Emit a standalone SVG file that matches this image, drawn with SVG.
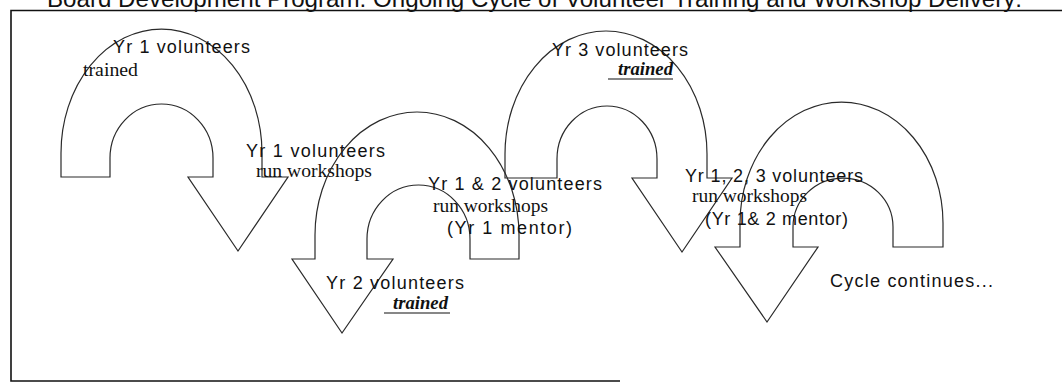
<svg xmlns="http://www.w3.org/2000/svg" width="1062" height="383" viewBox="0 0 1062 383">
<style>
.bg{fill:#fff}
.frame{fill:none;stroke:#111;stroke-width:1.6}
.arrow{fill:none;stroke:#2a2a2a;stroke-width:1.2;stroke-linejoin:miter}
.ul{stroke:#111;stroke-width:1.2}
.title{font-family:"Liberation Sans",Arial,sans-serif;font-size:24px;fill:#111}
.sans{font-family:"Liberation Sans",Arial,sans-serif;font-size:18px;fill:#111}
.serif{font-family:"Liberation Serif","Times New Roman",serif;font-size:18px;fill:#111}
.it{font-family:"Liberation Serif","Times New Roman",serif;font-size:18px;font-style:italic;font-weight:bold;fill:#111}
</style>
<rect class="bg" x="0" y="0" width="1062" height="383"/>
<g id="title">
<text class="title" x="47" y="7" textLength="975" lengthAdjust="spacingAndGlyphs">Board Development Program: Ongoing Cycle of Volunteer Training and Workshop Delivery:</text>
</g>
<g id="frame">
<path class="frame" d="M1062,10.5 H11 V381 H620"/>
</g>
<g id="arrow-yr1">
<path class="arrow" d="M61,177 V153 A100.5,124 0 0 1 262,153 V177 H288 L238,251 L188,177 H213 V158 A51.5,54 0 0 0 110,158 V177 Z"/>
<text class="sans" x="113" y="53" textLength="137" lengthAdjust="spacing">Yr 1 volunteers</text>
<text class="serif" x="83" y="76" textLength="55" lengthAdjust="spacingAndGlyphs">trained</text>
<text class="sans" x="246" y="157" textLength="139" lengthAdjust="spacing">Yr 1 volunteers</text>
<text class="serif" x="256" y="177" textLength="116" lengthAdjust="spacingAndGlyphs">run workshops</text>
</g>
<g id="arrow-yr2">
<path class="arrow" d="M519,259 V235 A102,123 0 0 0 315,235 V259 H292 L342,333 L393,259 H367 V239 A51.5,54 0 0 1 470,239 V259 Z"/>
<text class="sans" x="326" y="289" textLength="138" lengthAdjust="spacing">Yr 2 volunteers</text>
<text class="it" x="393" y="309" textLength="55" lengthAdjust="spacingAndGlyphs">trained</text>
<line class="ul" x1="384" y1="313" x2="450" y2="313"/>
<text class="sans" x="428" y="190" textLength="174" lengthAdjust="spacing">Yr 1 &amp; 2 volunteers</text>
<text class="serif" x="433" y="212" textLength="115" lengthAdjust="spacingAndGlyphs">run workshops</text>
<text class="sans" x="447" y="234" textLength="125" lengthAdjust="spacing">(Yr 1 mentor)</text>
</g>
<g id="arrow-yr3">
<path class="arrow" d="M505,178 V154 A101,123 0 0 1 707,154 V178 H732 L682,252 L632,178 H657 V159 A50,53 0 0 0 557,159 V178 Z"/>
<text class="sans" x="552" y="56" textLength="136" lengthAdjust="spacing">Yr 3 volunteers</text>
<text class="it" x="618" y="75" textLength="55" lengthAdjust="spacingAndGlyphs">trained</text>
<line class="ul" x1="608" y1="79" x2="673" y2="79"/>
</g>
<g id="arrow-yr123">
<path class="arrow" d="M943,247 V223 A101.5,121 0 0 0 740,223 V247 H715 L767,322 L818,247 H793 V227 A50,49 0 0 1 893,227 V247 Z"/>
<text class="sans" x="685" y="182" textLength="178" lengthAdjust="spacing">Yr 1, 2, 3 volunteers</text>
<text class="serif" x="692" y="202" textLength="115" lengthAdjust="spacingAndGlyphs">run workshops</text>
<text class="sans" x="705" y="225" textLength="143" lengthAdjust="spacing">(Yr 1&amp; 2 mentor)</text>
<text class="sans" x="830" y="287" textLength="163" lengthAdjust="spacing">Cycle continues...</text>
</g>
</svg>
